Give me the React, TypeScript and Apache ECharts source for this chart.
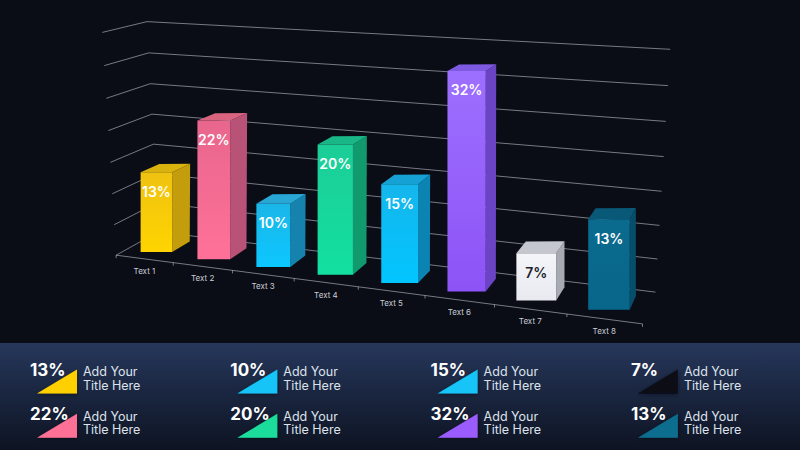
import React, { useEffect, useRef } from "react";
import * as echarts from "echarts";

// ---------- data ----------
const categories = ["Text 1", "Text 2", "Text 3", "Text 4", "Text 5", "Text 6", "Text 7", "Text 8"];
const values = [13, 22, 10, 20, 15, 32, 7, 13];
const yTicks = [0, 5, 10, 15, 20, 25, 30, 35];
const legendLine1 = ["Add Your", "Add Your", "Add Your", "Add Your", "Add Your", "Add Your", "Add Your", "Add Your"];
const legendLine2 = ["Title Here", "Title Here", "Title Here", "Title Here", "Title Here", "Title Here", "Title Here", "Title Here"];

// ---------- styles ----------
const frontTop = ["#efc211", "#e8668d", "#1bb6e8", "#1ccd97", "#15b6ec", "#9d6fff", "#f4f5f9", "#0b6b8f"];
const frontBottom = ["#ffd400", "#ff7198", "#0cc7ff", "#12e0a1", "#02c5ff", "#8d53f6", "#e8eaf0", "#07668a"];
const sideColors = ["#c49d0c", "#b85276", "#1583ae", "#129a6f", "#0b84b3", "#6a44c5", "#a7aab2", "#064e69"];
const topColors = ["#d9b20e", "#d8647f", "#28a6d4", "#19b787", "#15a1d4", "#7e59e2", "#c4c7ce", "#0a5877"];
const labelColors = ["#ffffff", "#ffffff", "#ffffff", "#ffffff", "#ffffff", "#ffffff", "#1b1e27", "#ffffff"];
const legendColors = ["#ffd000", "#ff6f96", "#12c4f7", "#1cdc9c", "#12c4f7", "#9b5cff", "#0a0d19", "#0c6d8f"];
const FONT = "Inter, 'Noto Sans', sans-serif";

// ---------- perspective camera (layout anchors) ----------
type Corr = [number, number, number, number, number];
const anchors: Corr[] = [];
const leftFront = [[116, 255], [114.3, 225], [112.3, 193.3], [110.7, 161.7], [108.3, 131], [106.7, 97.7], [104.3, 65.7], [101.7, 32.3]];
leftFront.forEach(([u, v], k) => anchors.push([0, k / 7, 0, u, v]));
const leftBack = [[7, 147.7, 21.7], [6, 148.3, 53.3], [5, 150, 84], [4, 151.7, 114.3], [3, 153.3, 144.3]];
leftBack.forEach(([k, u, v]) => anchors.push([0, k / 7, 1, u, v]));
const rightBack = [[655.7, 291.7], [657.7, 258.7], [659.3, 225], [661.7, 191.3], [663.3, 156.7], [666, 120.7], [668.3, 86], [670, 49.3]];
rightBack.forEach(([u, v], k) => anchors.push([1, k / 7, 1, u, v]));
const floorTicksX = [116, 173, 233.3, 294, 358.3, 425, 495, 566.7, 641.7];
floorTicksX.forEach((u, j) => anchors.push([j / 8, 0, 0, u, 255 + (u - 116) * (69.3 / 525.7)]));

function fitCamera(c: Corr[]): number[] {
  const N = 11;
  const A = Array.from({ length: N }, () => new Array(N).fill(0));
  const b = new Array(N).fill(0);
  const add = (r: number[], y: number) => {
    for (let i = 0; i < N; i++) {
      b[i] += r[i] * y;
      for (let j = 0; j < N; j++) A[i][j] += r[i] * r[j];
    }
  };
  for (const [X, Y, Z, u0, v0] of c) {
    const u = (u0 - 400) / 400;
    const v = (v0 - 225) / 400;
    add([X, Y, Z, 1, 0, 0, 0, 0, -u * X, -u * Y, -u * Z], u);
    add([0, 0, 0, 0, X, Y, Z, 1, -v * X, -v * Y, -v * Z], v);
  }
  for (let col = 0; col < N; col++) {
    let p = col;
    for (let r = col + 1; r < N; r++) if (Math.abs(A[r][col]) > Math.abs(A[p][col])) p = r;
    [A[col], A[p]] = [A[p], A[col]];
    [b[col], b[p]] = [b[p], b[col]];
    for (let r = 0; r < N; r++) {
      if (r === col) continue;
      const f = A[r][col] / A[col][col];
      for (let k = col; k < N; k++) A[r][k] -= f * A[col][k];
      b[r] -= f * b[col];
    }
  }
  return b.map((x, i) => x / A[i][i]);
}
const P = fitCamera(anchors);
function proj(X: number, Y: number, Z: number): [number, number] {
  const w = P[8] * X + P[9] * Y + P[10] * Z + 1;
  const u = (P[0] * X + P[1] * Y + P[2] * Z + P[3]) / w;
  const v = (P[4] * X + P[5] * Y + P[6] * Z + P[7]) / w;
  return [u * 400 + 400, v * 400 + 225];
}

const BAR_RATIO = 0.56;
const Z0 = 0.28;
const DEPTH = 0.44;
const GRID_COLOR = "rgba(190,195,205,0.6)";

export default function App() {
  const ref = useRef<HTMLDivElement>(null);
  useEffect(() => {
    document.body.style.margin = "0";
    const chart = echarts.init(ref.current!, undefined, { renderer: "svg" });

    const norm = (params: any, c: number[]) => {
      const cs = params.coordSys;
      return [(c[0] - cs.x) / cs.width, (cs.y + cs.height - c[1]) / cs.height];
    };

    const legendGraphics: any[] = [
      {
        type: "rect",
        shape: { x: 0, y: 343, width: 800, height: 107 },
        style: {
          fill: new echarts.graphic.LinearGradient(0, 0, 0, 1, [
            { offset: 0, color: "#26375b" },
            { offset: 1, color: "#0d1322" },
          ]),
        },
        z: 0,
      },
    ];
    values.forEach((v, i) => {
      const col = Math.floor(i / 2);
      const row = i % 2;
      const x0 = 30 + col * 200.3;
      const cy = 370 + row * 44.3;
      legendGraphics.push(
        {
          type: "polygon",
          shape: { points: [[x0 + 7, cy + 23.5], [x0 + 47, cy + 23.5], [x0 + 47, cy - 0.5]] },
          style: { fill: legendColors[i], shadowBlur: 4, shadowColor: "rgba(0,0,0,0.45)", shadowOffsetY: 1 },
          z: 1,
        },
        {
          type: "text",
          x: x0,
          y: cy,
          style: {
            text: v + "%",
            fill: "#ffffff",
            fontSize: 17,
            fontWeight: 700,
            fontFamily: FONT,
            align: "left",
            verticalAlign: "middle",
            textAlign: "left",
            textVerticalAlign: "middle",
          },
          z: 2,
        },
        {
          type: "text",
          x: x0 + 53,
          y: cy + 1.7,
          style: {
            text: legendLine1[i],
            fill: "#dde2eb",
            fontSize: 12.5,
            fontFamily: FONT,
            align: "left",
            verticalAlign: "middle",
            textAlign: "left",
            textVerticalAlign: "middle",
          },
          z: 2,
        },
        {
          type: "text",
          x: x0 + 53,
          y: cy + 15.3,
          style: {
            text: legendLine2[i],
            fill: "#dde2eb",
            fontSize: 12.5,
            fontFamily: FONT,
            align: "left",
            verticalAlign: "middle",
            textAlign: "left",
            textVerticalAlign: "middle",
          },
          z: 2,
        }
      );
    });

    chart.setOption({
      animation: false,
      backgroundColor: "#0a0c16",
      grid: { left: 0, right: 0, top: 0, bottom: 0, show: false },
      xAxis: { type: "category", data: categories, show: false },
      yAxis: { type: "value", min: 0, max: 35, interval: 5, show: false },
      graphic: { elements: legendGraphics },
      series: [
        {
          type: "custom",
          name: "walls",
          silent: true,
          data: yTicks.map((t) => [0, t]),
          renderItem: (params: any, api: any) => {
            const c = api.coord([0, api.value(1)]);
            const Y = norm(params, c)[1];
            return {
              type: "polyline",
              shape: { points: [proj(0, Y, 0), proj(0, Y, 1), proj(1, Y, 1)] },
              style: { stroke: GRID_COLOR, lineWidth: 1, fill: "none" },
            };
          },
        },
        {
          type: "custom",
          name: "floor",
          silent: true,
          data: [[0, 0]],
          renderItem: (params: any, api: any) => {
            const band = api.size([1, 0])[0] / params.coordSys.width;
            const children: any[] = [
              {
                type: "line",
                shape: (() => {
                  const a = proj(0, 0, 0);
                  const b = proj(1, 0, 0);
                  return { x1: a[0], y1: a[1], x2: b[0], y2: b[1] };
                })(),
                style: { stroke: GRID_COLOR, lineWidth: 1 },
              },
            ];
            for (let j = 0; j <= categories.length; j++) {
              const cx = norm(params, api.coord([Math.min(j, categories.length - 1), 0]))[0];
              const X = j < categories.length ? cx - band / 2 : cx + band / 2;
              const p = proj(X, 0, 0);
              children.push({
                type: "line",
                shape: { x1: p[0], y1: p[1], x2: p[0], y2: p[1] + 3 },
                style: { stroke: GRID_COLOR, lineWidth: 1 },
              });
            }
            return { type: "group", children };
          },
        },
        {
          type: "custom",
          name: "bars",
          silent: true,
          data: values.map((v, i) => [i, v]),
          renderItem: (params: any, api: any) => {
            const i = api.value(0);
            const v = api.value(1);
            const X = norm(params, api.coord([i, 0]))[0];
            const Yv = norm(params, api.coord([i, v]))[1];
            const hw = (api.size([1, 0])[0] / params.coordSys.width) * BAR_RATIO / 2;
            const b0 = proj(X, 0, Z0);
            const b1 = proj(X, Yv, Z0);
            const L = proj(X - hw, 0, Z0)[0];
            const R = proj(X + hw, 0, Z0)[0];
            const yb = b0[1];
            const yt = b1[1];
            const dv = (x: number, y: number) => {
              const a = proj(x, y, Z0);
              const b = proj(x, y, Z0 + DEPTH);
              return [b[0] - a[0], b[1] - a[1]];
            };
            const dRB = dv(X + hw, 0);
            const dRT = dv(X + hw, Yv);
            const dLT = dv(X - hw, Yv);
            const lab = proj(X, 0, 0);
            return {
              type: "group",
              children: [
                {
                  type: "polygon",
                  shape: { points: [[R, yb], [R, yt], [R + dRT[0], yt + dRT[1]], [R + dRB[0], yb + dRB[1]]] },
                  style: { fill: sideColors[i] },
                },
                {
                  type: "polygon",
                  shape: { points: [[L, yt], [R, yt], [R + dRT[0], yt + dRT[1]], [L + dLT[0], yt + dLT[1]]] },
                  style: { fill: topColors[i] },
                },
                {
                  type: "polygon",
                  shape: { points: [[L, yb], [R, yb], [R, yt], [L, yt]] },
                  style: {
                    fill: new echarts.graphic.LinearGradient(0, 0, 0, 1, [
                      { offset: 0, color: frontTop[i] },
                      { offset: 1, color: frontBottom[i] },
                    ]),
                  },
                },
                {
                  type: "text",
                  x: (L + R) / 2,
                  y: yt + 19,
                  style: {
                    text: v + "%",
                    fill: labelColors[i],
                    fontSize: 14,
                    fontWeight: 600,
                    fontFamily: FONT,
                    align: "center",
                    verticalAlign: "middle",
                    textAlign: "center",
                    textVerticalAlign: "middle",
                  },
                },
                {
                  type: "text",
                  x: lab[0],
                  y: lab[1] + 12,
                  style: {
                    text: categories[i],
                    fill: "#c9ccd4",
                    fontSize: 8,
                    fontFamily: FONT,
                    align: "center",
                    verticalAlign: "middle",
                    textAlign: "center",
                    textVerticalAlign: "middle",
                  },
                },
              ],
            };
          },
        },
      ],
    });
    return () => chart.dispose();
  }, []);
  return <div ref={ref} style={{ width: 800, height: 450 }} />;
}
